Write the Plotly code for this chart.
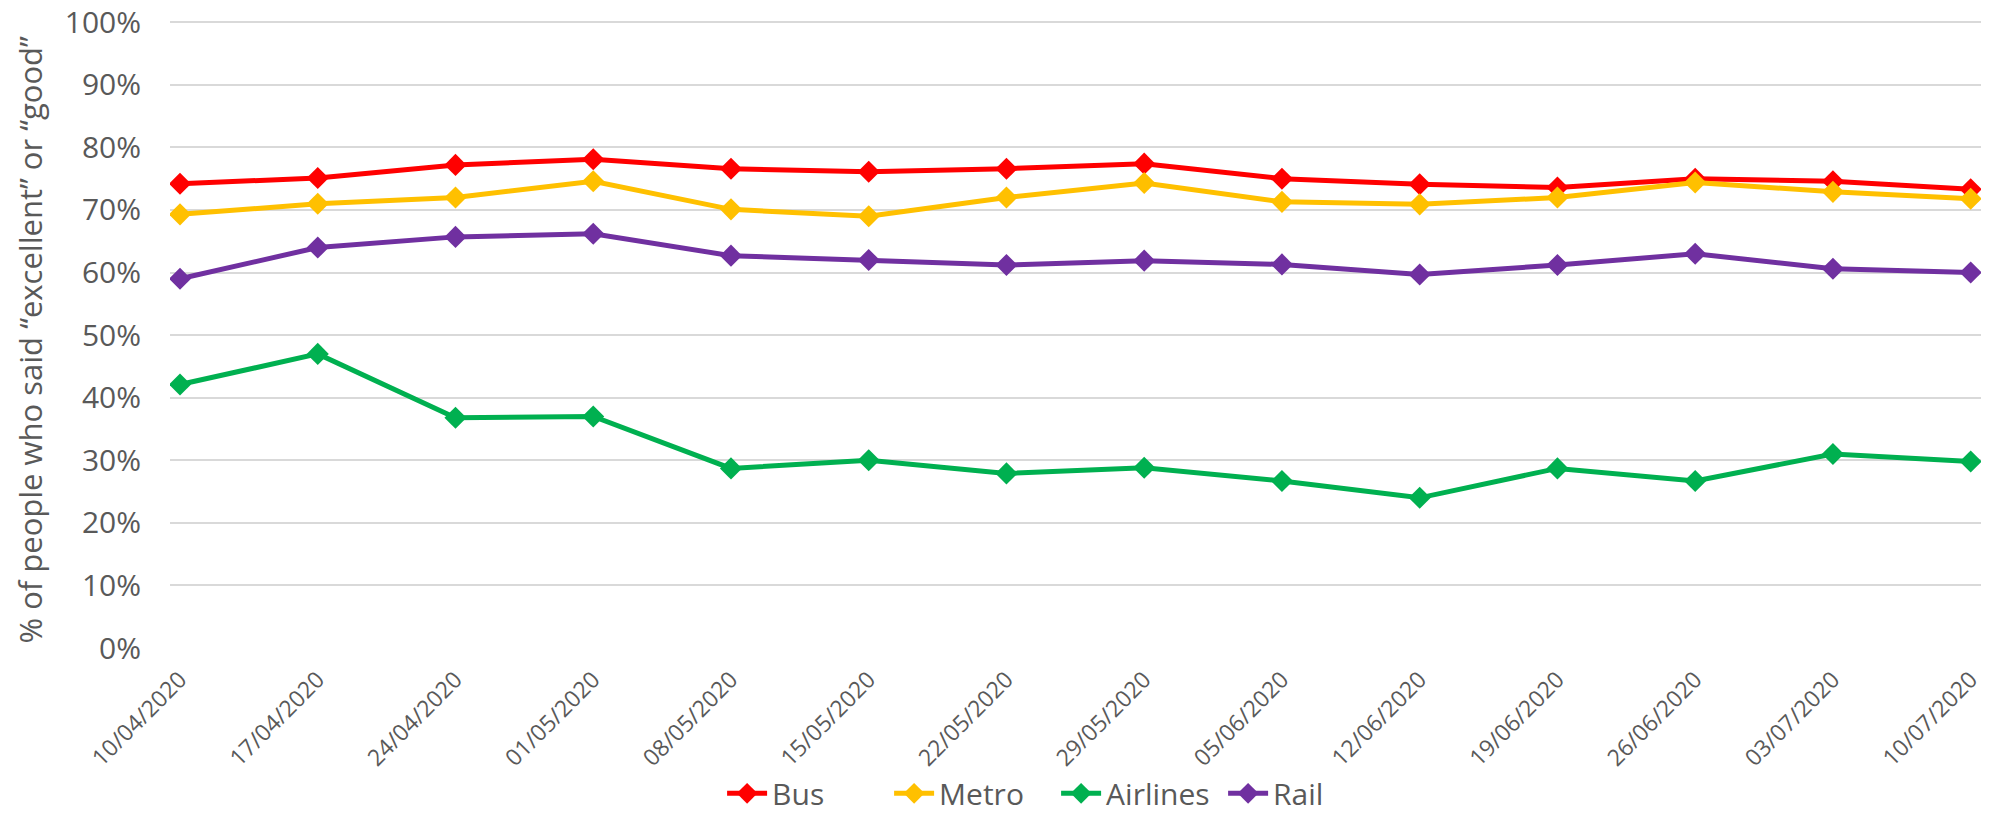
import plotly.graph_objects as go

dates = ["10/04/2020", "17/04/2020", "24/04/2020", "01/05/2020", "08/05/2020",
         "15/05/2020", "22/05/2020", "29/05/2020", "05/06/2020", "12/06/2020",
         "19/06/2020", "26/06/2020", "03/07/2020", "10/07/2020"]

bus = [0.742, 0.751, 0.772, 0.781, 0.766, 0.761, 0.766, 0.774, 0.750, 0.741,
       0.736, 0.750, 0.746, 0.733]
metro = [0.693, 0.710, 0.720, 0.746, 0.701, 0.690, 0.720, 0.743, 0.713, 0.709,
         0.720, 0.744, 0.729, 0.718]
airlines = [0.421, 0.470, 0.368, 0.370, 0.287, 0.300, 0.279, 0.288, 0.267, 0.240,
            0.287, 0.267, 0.310, 0.298]
rail = [0.590, 0.640, 0.657, 0.662, 0.627, 0.620, 0.612, 0.619, 0.613, 0.597,
        0.612, 0.630, 0.606, 0.600]

series = [("Bus", bus, "#FF0000"), ("Metro", metro, "#FFC000"),
          ("Airlines", airlines, "#00B050"), ("Rail", rail, "#7030A0")]

FONT = "Open Sans"
GREY = "#595959"

fig = go.Figure()
for name, vals, col in series:
    fig.add_trace(go.Scatter(
        x=dates, y=vals, name=name, mode="lines+markers",
        line=dict(color=col, width=5),
        marker=dict(symbol="diamond", size=17, color=col, line=dict(width=0)),
    ))

fig.update_layout(
    width=1992, height=817,
    margin=dict(l=170, r=11, t=21, b=169, autoexpand=False),
    paper_bgcolor="white", plot_bgcolor="white",
    font=dict(family=FONT, color=GREY),
    showlegend=True,
    legend=dict(orientation="h", xref="container", yref="container",
                x=0.3625, xanchor="left", y=0.029, yanchor="middle",
                font=dict(size=30, color=GREY, family=FONT),
                itemwidth=40, tracegroupgap=0,
                entrywidth=112, entrywidthmode="pixels"),
    xaxis=dict(type="category", range=[-0.0726, 13.075], showgrid=False,
               zeroline=False, showline=False, tickangle=-45, automargin=False,
               tickfont=dict(size=23, color=GREY, family=FONT),
               ticks="outside", ticklen=8, tickcolor="rgba(0,0,0,0)"),
    yaxis=dict(range=[0, 1.002], dtick=0.1, tickformat=".0%", showgrid=True,
               gridcolor="#D9D9D9", gridwidth=1.5, zeroline=False, automargin=False,
               showline=False, ticklabelstandoff=28,
               tickfont=dict(size=30, color=GREY, family=FONT)),
)

fig.add_annotation(
    text="% of people who said “excellent” or “good”",
    xref="paper", yref="paper", x=-0.0773, y=0.492,
    xanchor="center", yanchor="middle", textangle=-90, showarrow=False,
    font=dict(size=31, color=GREY, family=FONT),
)

fig.write_html("out.html", config={"displayModeBar": False},
               post_script="document.body.style.margin='0px';document.body.style.overflow='hidden';")
